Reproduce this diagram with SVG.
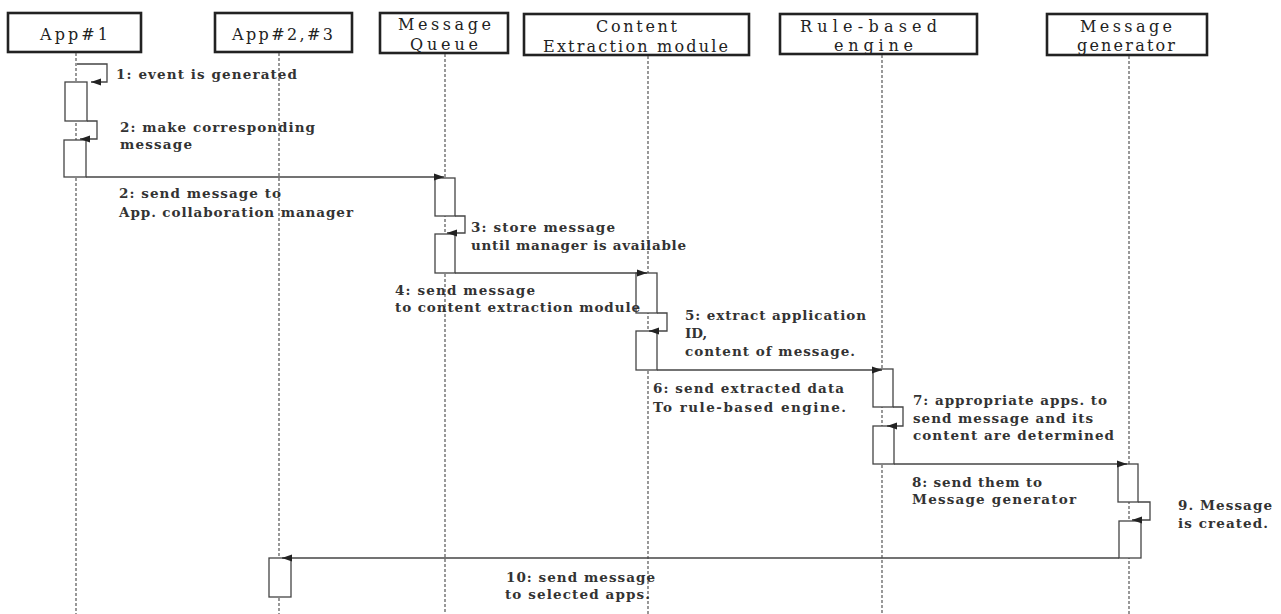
<svg xmlns="http://www.w3.org/2000/svg" width="1281" height="614" viewBox="0 0 1281 614">
<style>
.hdr{fill:#fff;stroke:#222;stroke-width:2.6}
.ht{font-family:"DejaVu Serif","Liberation Serif",serif;font-size:16px;fill:#222}
.life{stroke:#555;stroke-width:1.2;stroke-dasharray:3 2;fill:none}
.act{fill:#fff;stroke:#444;stroke-width:1.3}
.msg{stroke:#444;stroke-width:1.3;fill:none}
.lt{font-family:"DejaVu Serif","Liberation Serif",serif;font-size:13.5px;font-weight:bold;fill:#333}
</style>
<defs>
<marker id="ah" markerUnits="userSpaceOnUse" markerWidth="12" markerHeight="8" refX="10" refY="4" orient="auto">
<path d="M0,0.5 L10,4 L0,7.5 Z" fill="#222"/>
</marker>
</defs>
<rect width="1281" height="614" fill="#fff"/>

<g id="app1">
<rect class="hdr" x="8" y="13" width="133" height="39"/>
<text class="ht" x="40" y="40" textLength="68">App#1</text>
<line class="life" x1="76" y1="53" x2="76" y2="614"/>
<rect class="act" x="65" y="82" width="22" height="39"/>
<rect class="act" x="64" y="140" width="22" height="37"/>
</g>
<g id="app23">
<rect class="hdr" x="215" y="13" width="137" height="39"/>
<text class="ht" x="232" y="40" textLength="101">App#2,#3</text>
<line class="life" x1="279" y1="53" x2="279" y2="614"/>
<rect class="act" x="269" y="558" width="22" height="39"/>
</g>
<g id="mq">
<rect class="hdr" x="380" y="13" width="128" height="40"/>
<text class="ht" x="398" y="30" textLength="93">Message</text>
<text class="ht" x="410" y="50" textLength="68">Queue</text>
<line class="life" x1="445" y1="54" x2="445" y2="614"/>
<rect class="act" x="435" y="178" width="20" height="38"/>
<rect class="act" x="435" y="234" width="20" height="39"/>
</g>
<g id="ce">
<rect class="hdr" x="524" y="14" width="225" height="41"/>
<text class="ht" x="596" y="32" textLength="81">Content</text>
<text class="ht" x="543" y="52" textLength="185">Extraction module</text>
<line class="life" x1="648" y1="56" x2="648" y2="614"/>
<rect class="act" x="636" y="273" width="21" height="40"/>
<rect class="act" x="636" y="331" width="21" height="39"/>
</g>
<g id="rb">
<rect class="hdr" x="780" y="14" width="197" height="40"/>
<text class="ht" x="800" y="32" textLength="137">Rule-based</text>
<text class="ht" x="834" y="51" textLength="79">engine</text>
<line class="life" x1="882" y1="55" x2="882" y2="614"/>
<rect class="act" x="873" y="369" width="20" height="38"/>
<rect class="act" x="873" y="426" width="21" height="38"/>
</g>
<g id="mg">
<rect class="hdr" x="1047" y="14" width="160" height="41"/>
<text class="ht" x="1080" y="32" textLength="92">Message</text>
<text class="ht" x="1077" y="51" textLength="98">generator</text>
<line class="life" x1="1129" y1="56" x2="1129" y2="614"/>
<rect class="act" x="1118" y="464" width="20" height="38"/>
<rect class="act" x="1119" y="521" width="22" height="37"/>
</g>

<g id="connectors">
<polyline class="msg" points="77,64 107,64 107,82 91,82" marker-end="url(#ah)"/>
<polyline class="msg" points="87,121 97,121 97,139 80,139" marker-end="url(#ah)"/>
<line class="msg" x1="86" y1="177" x2="444" y2="177" marker-end="url(#ah)"/>
<polyline class="msg" points="455,216 465,216 465,233 447,233" marker-end="url(#ah)"/>
<line class="msg" x1="455" y1="273" x2="647" y2="273" marker-end="url(#ah)"/>
<polyline class="msg" points="657,313 667,313 667,331 649,331" marker-end="url(#ah)"/>
<line class="msg" x1="657" y1="370" x2="882" y2="370" marker-end="url(#ah)"/>
<polyline class="msg" points="893,407 903,407 903,426 887,426" marker-end="url(#ah)"/>
<line class="msg" x1="894" y1="464" x2="1127" y2="464" marker-end="url(#ah)"/>
<polyline class="msg" points="1138,502 1150,502 1150,520 1132,520" marker-end="url(#ah)"/>
<line class="msg" x1="1119" y1="558" x2="282" y2="558" marker-end="url(#ah)"/>
</g>

<g id="labels">
<text class="lt" x="116" y="79" textLength="181">1: event is generated</text>
<text class="lt" x="120" y="132" textLength="195">2: make corresponding</text>
<text class="lt" x="120" y="149" textLength="72">message</text>
<text class="lt" x="119" y="198" textLength="162">2: send message to</text>
<text class="lt" x="119" y="217" textLength="234">App. collaboration manager</text>
<text class="lt" x="471" y="232" textLength="144">3: store message</text>
<text class="lt" x="471" y="250" textLength="215">until manager is available</text>
<text class="lt" x="395" y="295" textLength="140">4: send message</text>
<text class="lt" x="395" y="312" textLength="245">to content extraction module</text>
<text class="lt" x="685" y="320" textLength="181">5: extract application</text>
<text class="lt" x="685" y="338">ID,</text>
<text class="lt" x="685" y="356" textLength="170">content of message.</text>
<text class="lt" x="653" y="393" textLength="191">6: send extracted data</text>
<text class="lt" x="653" y="412" textLength="193">To rule-based engine.</text>
<text class="lt" x="913" y="405" textLength="194">7: appropriate apps. to</text>
<text class="lt" x="913" y="423" textLength="180">send message and its</text>
<text class="lt" x="913" y="440" textLength="201">content are determined</text>
<text class="lt" x="912" y="487" textLength="130">8: send them to</text>
<text class="lt" x="912" y="504" textLength="164">Message generator</text>
<text class="lt" x="1178" y="510" textLength="94">9. Message</text>
<text class="lt" x="1178" y="528" textLength="90">is created.</text>
<text class="lt" x="506" y="582" textLength="149">10: send message</text>
<text class="lt" x="505" y="599" textLength="145">to selected apps.</text>
</g>
</svg>
